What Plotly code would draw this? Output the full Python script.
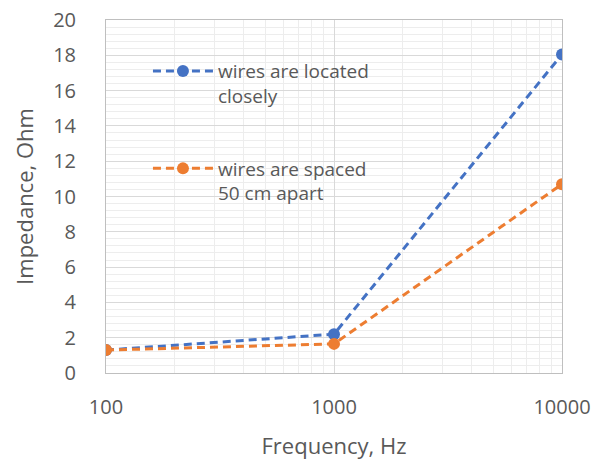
import plotly.graph_objects as go

freq = [100, 1000, 10000]
close_vals = [1.3, 2.2, 18.05]
apart_vals = [1.3, 1.65, 10.7]
names = ["wires are located<br>closely", "wires are spaced<br>50 cm apart"]
colors = ["#4472C4", "#ED7D31"]
x_ticks = [100, 1000, 10000]
x_minor = [200, 300, 400, 500, 600, 700, 800, 900,
           2000, 3000, 4000, 5000, 6000, 7000, 8000, 9000]

FONT = "Open Sans"
TXT = "#595959"
fig = go.Figure()
for i, (vals, name) in enumerate([(close_vals, names[0]), (apart_vals, names[1])]):
    fig.add_trace(go.Scatter(
        x=freq, y=vals, name=name, mode="lines+markers",
        line=dict(color=colors[i], width=3, dash="8px,5px"),
        marker=dict(color=colors[i], size=12),
        legendgroup=f"g{i}",
    ))

fig.update_layout(
    width=606, height=464,
    margin=dict(l=106, r=44, t=20, b=91),
    paper_bgcolor="white", plot_bgcolor="white",
    font=dict(family=FONT, color=TXT),
    showlegend=True,
    legend=dict(x=0.092, y=0.909, xanchor="left", yanchor="top", valign="top",
                bgcolor="rgba(255,255,255,0)", font=dict(size=19, color=TXT),
                tracegroupgap=45, itemwidth=60),
    xaxis=dict(type="log", range=[2, 4], tickvals=x_ticks,
               ticktext=[str(v) for v in x_ticks], automargin=False,
               showgrid=True, gridcolor="#D9D9D9", gridwidth=1,
               showline=True, linecolor="#BFBFBF", linewidth=1, mirror=True,
               zeroline=False, ticks="", ticklabelstandoff=16,
               tickfont=dict(size=20, color=TXT),
               minor=dict(tickvals=x_minor, showgrid=True, gridcolor="#EDEDED", gridwidth=1),
               title=dict(text="Frequency, Hz", font=dict(size=22, color=TXT), standoff=19)),
    yaxis=dict(range=[0, 20], dtick=2, showgrid=True, gridcolor="#D9D9D9", gridwidth=1,
               showline=True, linecolor="#BFBFBF", linewidth=1, mirror=True,
               zeroline=False, ticks="", ticklabelstandoff=25, automargin=False,
               tickfont=dict(size=20, color=TXT),
               minor=dict(dtick=0.4, showgrid=True, gridcolor="#EDEDED", gridwidth=1),
               title=dict(text="Impedance, Ohm", font=dict(size=22, color=TXT), standoff=13)),
)

fig.write_html("out.html")
